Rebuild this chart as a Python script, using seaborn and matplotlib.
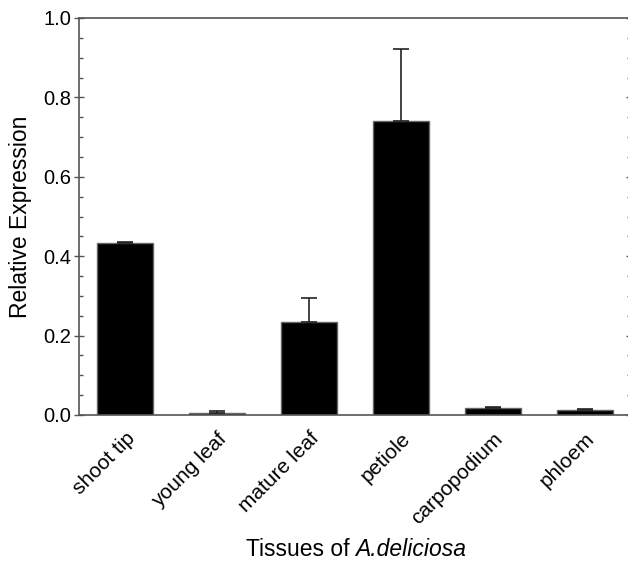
import matplotlib
matplotlib.use("Agg")
import matplotlib.pyplot as plt
import seaborn as sns
import pandas as pd
from matplotlib.ticker import MultipleLocator, FormatStrFormatter

tissues = ["shoot tip", "young leaf", "mature leaf", "petiole", "carpopodium", "phloem"]
expression = [0.433, 0.005, 0.234, 0.741, 0.018, 0.013]
error_up = [0.003, 0.005, 0.061, 0.180, 0.002, 0.001]

sns.set_theme(style="white")
plt.rcParams["font.family"] = ["Liberation Sans", "DejaVu Sans"]

df = pd.DataFrame({"tissue": tissues, "expr": expression})

W, H = 628, 562
fig = plt.figure(figsize=(W / 100, H / 100), dpi=100)
ax = fig.add_axes([79 / W, (H - 415) / H, (631 - 79) / W, 397 / H])

sns.barplot(data=df, x="tissue", y="expr", color="black", width=0.6,
            edgecolor="#666666", linewidth=1.0, errorbar=None, ax=ax, saturation=1)
for p in ax.patches:
    p.set_facecolor("black")

xs = list(range(len(tissues)))
ax.errorbar(xs, expression, yerr=[[0] * len(xs), error_up], fmt="none",
            ecolor="#222222", elinewidth=1.2, capsize=6, capthick=1.2, zorder=3)

ax.set_xlim(-0.5, 5.5)
ax.set_ylim(0, 1.0)
ax.yaxis.set_major_locator(MultipleLocator(0.2))
ax.yaxis.set_minor_locator(MultipleLocator(0.05))
ax.yaxis.set_major_formatter(FormatStrFormatter("%.1f"))

for s in ax.spines.values():
    s.set_color("#555555")
    s.set_linewidth(1.2)
    s.set_visible(True)

ax.tick_params(axis="y", which="major", direction="inout", length=7, width=1,
               color="#555555", left=True, right=True, labelsize=14.5,
               labelcolor="black", pad=2)
ax.tick_params(axis="y", which="minor", direction="in", length=3, width=1,
               color="#555555", left=True, right=True)
ax.tick_params(axis="x", which="both", bottom=False, top=False, labelsize=15,
               labelcolor="black", pad=4)
plt.setp(ax.get_xticklabels(), rotation=45, ha="right", rotation_mode="anchor")

ax.set_ylabel("Relative Expression", fontsize=16.5, color="black", labelpad=8)
ax.set_xlabel("")

# x-axis title with italic species name
renderer = fig.canvas.get_renderer()
t1 = fig.text(0, (H - 556) / H, "Tissues of ", fontsize=16.5, color="black",
              ha="left", va="baseline")
t2 = fig.text(0, (H - 556) / H, "A.deliciosa", fontsize=16.5, color="black",
              style="italic", ha="left", va="baseline")
w1 = t1.get_window_extent(renderer).width
w2 = t2.get_window_extent(renderer).width
cx = 356
x0 = cx - (w1 + w2) / 2
t1.set_x(x0 / W)
t2.set_x((x0 + w1) / W)

fig.savefig("out.png", dpi=100)
